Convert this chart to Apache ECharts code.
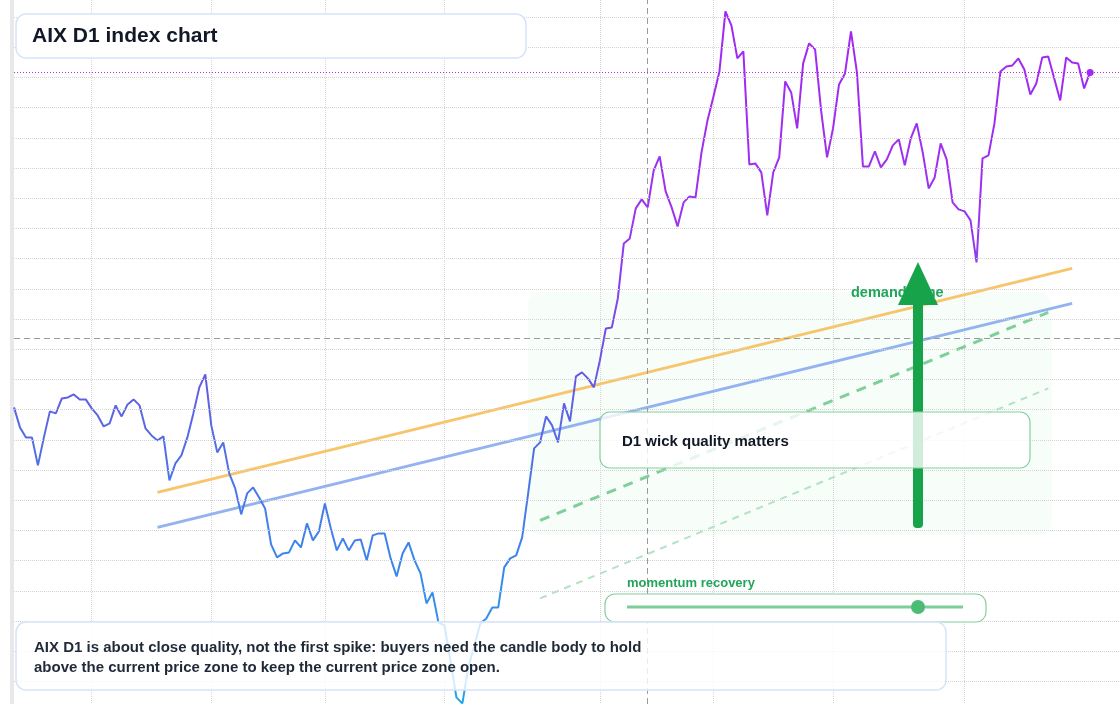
<!DOCTYPE html>
<html><head><meta charset="utf-8">
<script src="https://cdn.jsdelivr.net/npm/echarts@6/dist/echarts.min.js"></script>
<style>html,body{margin:0;padding:0;background:#fff}#c{width:1120px;height:704px}</style>
</head><body><div id="c"></div>
<script>
const closes = [274,254,244,244,216,244,270,268,283,284,287,282,282,273,266,255,258,276,265,277,
282,276,253,246,241,245,201,218,226,244,268,294,307,256,229,239,208,193,167,188,
194,184,173,137,124,128,129,141,134,158,141,150,178,153,131,143,131,141,142,121,
146,148,148,123,105,128,139,121,108,78,89,59,56,21,-16,-22,14,36,58,63,74,
74,114,123,126,144,188,233,239,265,256,239,278,
260,305,309,303,294,
321,353,354,383,438,443,473,482,474,511,525,490,474,455,479,485,484,529,561,585,
610,670,656,623,630,517,518,509,466,509,524,600,589,553,618,638,632,571,524,553,
597,608,650,609,515,515,530,514,522,536,542,516,543,558,529,493,504,538,522,479,
472,470,461,419,523,526,558,610,615,616,623,612,587,598,624,625,603,581,624,619,
618,593,609];
const totalSlots = 186;
const days = []; for (let i = 0; i < totalSlots; i++) days.push('D' + (i + 1));
const monthStarts = [13, 33, 52, 72, 98, 117, 137, 159];
const levelStep = 30.2;
const levelCount = 23;
const upperBand = [[24, 189], [177, 413]];
const lowerBand = [[24, 154], [177, 378]];
const momentumLine = [[88, 161], [173, 369]];
const supportLine = [[88, 83], [173, 293]];
const priceZone = 343;
const eventDay = 106;

const chart = echarts.init(document.getElementById('c'));
const last = closes.length - 1;
const grad = new echarts.graphic.LinearGradient(0, 0, 0, 704, [
  {offset: 0, color: '#a326f2'}, {offset: 0.3, color: '#9d32f0'},
  {offset: 0.5, color: '#7050e8'}, {offset: 0.6, color: '#5868e4'},
  {offset: 0.8, color: '#3a86ec'}, {offset: 1, color: '#22a6e8'}], true);
const gridLevels = [];
for (let k = 0; k < levelCount; k++) gridLevels.push({yAxis: +(k * levelStep).toFixed(1)});
chart.setOption({
  animation: false,
  grid: {left: 14, right: 0, top: 0, bottom: 0},
  xAxis: {type: 'category', data: days, boundaryGap: false,
    axisLine: {show: false}, axisTick: {show: false}, axisLabel: {show: false},
    splitLine: {show: true, interval: (i) => monthStarts.includes(i), lineStyle: {color: '#d4d4d4', type: 'dotted'}}},
  yAxis: {type: 'value', min: -22.6, max: 681.4,
    axisLine: {show: false}, axisTick: {show: false}, axisLabel: {show: false}, splitLine: {show: false}},
  series: [
    {type: 'line', data: [], markLine: {silent: true, symbol: 'none', label: {show: false},
      lineStyle: {color: '#d4d4d4', type: 'dotted', width: 1}, data: gridLevels}, z: 1},
    {type: 'line', data: upperBand, symbol: 'none', lineStyle: {color: '#f6c56c', width: 3}, z: 3},
    {type: 'line', data: lowerBand, symbol: 'none', lineStyle: {color: '#93b2f0', width: 3}, z: 3},
    {type: 'line', data: momentumLine, symbol: 'none', lineStyle: {color: '#7fcf9a', width: 3, type: [10, 8]}, z: 3},
    {type: 'line', data: supportLine, symbol: 'none', lineStyle: {color: '#b3e3c4', width: 2, type: [7, 6]}, z: 3},
    {type: 'line', data: [], markLine: {silent: true, symbol: 'none', label: {show: false},
      lineStyle: {color: '#9a9a9a', type: [6, 4], width: 1},
      data: [{yAxis: priceZone}, {xAxis: eventDay}]}, z: 2},
    {type: 'line', data: closes, showSymbol: false, lineStyle: {color: grad, width: 2}, z: 4,
      markLine: {silent: true, symbol: 'none', label: {show: false},
        lineStyle: {color: '#c026f0', type: [1, 2], width: 1},
        data: [{yAxis: closes[last]}]},
      markPoint: {symbol: 'circle', symbolSize: 7, itemStyle: {color: '#a326f2'}, label: {show: false},
        data: [{coord: [last, closes[last]]}]}}
  ],
  graphic: [
    {type: 'rect', shape: {x: 10, y: 0, width: 4, height: 704}, style: {fill: '#e8e8e8'}, z: 1},
    {type: 'rect', shape: {x: 528, y: 292, width: 524, height: 243, r: 14}, style: {fill: 'rgba(34,197,94,0.035)'}, z: 0},
    {type: 'rect', shape: {x: 16, y: 14, width: 510, height: 44, r: 10}, style: {fill: '#fff', stroke: '#d6e4fa', lineWidth: 1.5}, z: 10},
    {type: 'text', x: 32, y: 36, style: {text: 'AIX D1 index chart', font: 'bold 21px "Liberation Sans", Arial, sans-serif', fill: '#111827', verticalAlign: 'middle'}, z: 11},
    {type: 'text', x: 851, y: 293, style: {text: 'demand zone', font: 'bold 14.5px "Liberation Sans", Arial, sans-serif', fill: '#22a55a', verticalAlign: 'middle'}, z: 8},
    {type: 'rect', shape: {x: 913, y: 303, width: 10, height: 225, r: [0,0,4,4]}, style: {fill: '#16a34a'}, z: 9},
    {type: 'polygon', shape: {points: [[918, 262], [898, 305], [938, 305]]}, style: {fill: '#16a34a'}, z: 9},
    {type: 'rect', shape: {x: 600, y: 412, width: 430, height: 56, r: 10}, style: {fill: 'rgba(255,255,255,0.8)', stroke: '#86d09f', lineWidth: 1.2}, z: 10},
    {type: 'text', x: 622, y: 442, style: {text: 'D1 wick quality matters', font: 'bold 15px "Liberation Sans", Arial, sans-serif', fill: '#111827', verticalAlign: 'middle'}, z: 11},
    {type: 'text', x: 627, y: 583, style: {text: 'momentum recovery', font: 'bold 13px "Liberation Sans", Arial, sans-serif', fill: '#22a55a', verticalAlign: 'middle'}, z: 11},
    {type: 'rect', shape: {x: 605, y: 594, width: 381, height: 28, r: 10}, style: {fill: '#fff', stroke: '#86d09f', lineWidth: 1.2}, z: 10},
    {type: 'line', shape: {x1: 627, y1: 607, x2: 963, y2: 607}, style: {stroke: '#7ccf98', lineWidth: 3}, z: 11},
    {type: 'circle', shape: {cx: 918, cy: 607, r: 7}, style: {fill: '#4cbb73'}, z: 12},
    {type: 'rect', shape: {x: 16, y: 622, width: 930, height: 68, r: 10}, style: {fill: 'rgba(255,255,255,0.8)', stroke: '#d6e4fa', lineWidth: 1.5}, z: 10},
    {type: 'text', x: 34, y: 658, style: {text: 'AIX D1 is about close quality, not the first spike: buyers need the candle body to hold\nabove the current price zone to keep the current price zone open.', font: 'bold 15px "Liberation Sans", Arial, sans-serif', lineHeight: 20, fill: '#1f2937', verticalAlign: 'middle'}, z: 11}
  ]
});
</script></body></html>
